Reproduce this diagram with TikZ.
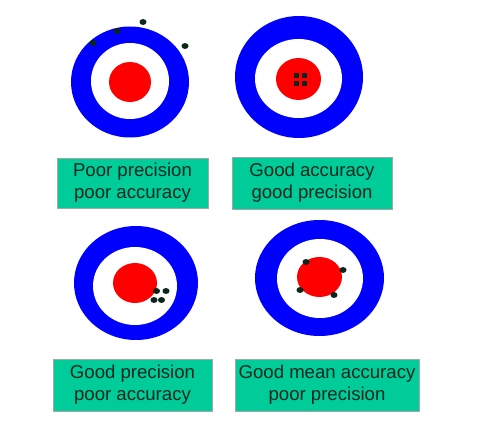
\documentclass[tikz,border=0pt]{standalone}
\usepackage{fontspec}
\setmainfont{Liberation Sans}
\usetikzlibrary{shapes.geometric}
\definecolor{tblue}{RGB}{0,0,255}
\definecolor{tred}{RGB}{255,0,0}
\definecolor{tgreen}{RGB}{0,204,153}
\definecolor{tdot}{RGB}{12,38,28}
\definecolor{ttext}{RGB}{15,40,30}
\begin{document}
\begin{tikzpicture}[x=1pt, y=-1pt,
    ring/.style={ellipse, fill=tblue, inner sep=0pt},
    hole/.style={ellipse, fill=white, inner sep=0pt},
    bull/.style={ellipse, fill=tred, inner sep=0pt},
    shot/.style={ellipse, fill=tdot, inner sep=0pt, minimum width=7pt, minimum height=6pt},
    sqshot/.style={rectangle, fill=tdot, inner sep=0pt, minimum size=5pt},
    lbl/.style={draw=gray!70, line width=0.4pt, fill=tgreen, text=ttext, align=center, inner sep=0pt, font=\fontsize{18.6}{22}\selectfont}
]
\useasboundingbox (0,0) rectangle (482,430);

% top left target
\node[ring, minimum width=118pt, minimum height=111pt] (ringA) at (130,82) {};
\node[hole, minimum width=78pt, minimum height=76pt] (holeA) at (130,81) {};
\node[bull, minimum width=42pt, minimum height=40pt] (bullA) at (130,82) {};
\node[shot] (a1) at (93,43) {};
\node[shot] (a2) at (117,31) {};
\node[shot] (a3) at (143,22) {};
\node[shot] (a4) at (185,46) {};

% top right target
\node[ring, minimum width=128pt, minimum height=122pt] (ringB) at (299,77) {};
\node[hole, minimum width=87pt, minimum height=79pt] (holeB) at (298.5,78.5) {};
\node[bull, minimum width=45pt, minimum height=42pt] (bullB) at (298.5,79) {};
\node[sqshot] (b1) at (296.5,76) {};
\node[sqshot] (b2) at (304,76) {};
\node[sqshot] (b3) at (296.5,83.5) {};
\node[sqshot] (b4) at (304,83.5) {};

% bottom left target
\node[ring, minimum width=124pt, minimum height=114pt] (ringC) at (136,283) {};
\node[hole, minimum width=84pt, minimum height=78pt] (holeC) at (135,286) {};
\node[bull, minimum width=44pt, minimum height=40pt] (bullC) at (135,283) {};
\node[shot] (c1) at (156.5,291) {};
\node[shot] (c2) at (166,291) {};
\node[shot] (c3) at (154,300) {};
\node[shot] (c4) at (161.5,300) {};

% bottom right target
\node[ring, minimum width=129pt, minimum height=116pt] (ringD) at (319.5,278) {};
\node[hole, minimum width=86pt, minimum height=79pt] (holeD) at (320,278.5) {};
\node[bull, minimum width=45pt, minimum height=40pt] (bullD) at (319.5,277) {};
\node[shot] (d1) at (306,262) {};
\node[shot] (d2) at (343,270) {};
\node[shot] (d3) at (300,290) {};
\node[shot] (d4) at (334,295) {};

% labels
\node[lbl, minimum width=151pt, minimum height=50pt] (capA) at (132.5,183) {Poor precision\\poor accuracy};
\node[lbl, minimum width=160pt, minimum height=52pt] (capB) at (312,183) {Good accuracy\\good precision};
\node[lbl, minimum width=159pt, minimum height=52pt] (capC) at (132.5,385) {Good precision\\poor accuracy};
\node[lbl, minimum width=184pt, minimum height=52pt] (capD) at (327,385) {Good mean accuracy\\poor precision};
\end{tikzpicture}
\end{document}
